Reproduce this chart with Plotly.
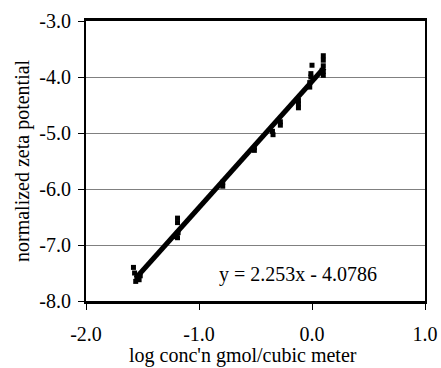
import plotly.graph_objects as go
import numpy as np

# Measured points (log concentration, normalized zeta potential)
x_data = [-1.58, -1.57, -1.56, -1.55, -1.53, -1.52,
          -1.19, -1.19, -1.185, -1.19, -1.20,
          -0.79, -0.79,
          -0.51, -0.51,
          -0.35, -0.345, -0.28, -0.28,
          -0.12, -0.12, -0.12,
          0.00, -0.01, -0.01, -0.02, -0.02,
          0.10, 0.10, 0.10, 0.10, 0.10, 0.09]
y_data = [-7.40, -7.50, -7.65, -7.58, -7.62, -7.55,
          -6.52, -6.60, -6.78, -6.87, -6.85,
          -5.88, -5.95,
          -5.26, -5.31,
          -4.97, -5.03, -4.80, -4.86,
          -4.42, -4.48, -4.55,
          -3.79, -3.94, -4.00, -4.10, -4.18,
          -3.62, -3.70, -3.80, -3.90, -3.97, -3.88]

# Trend line parameters
slope = 2.253
intercept = -4.0786
fit_range = [-1.56, 0.11]

x_ticks = [-2.0, -1.0, 0.0, 1.0]
y_ticks = [-3.0, -4.0, -5.0, -6.0, -7.0, -8.0]

x_title = "log conc'n gmol/cubic meter"
y_title = "normalized zeta potential"

fit_x = np.array(fit_range)
fit_y = slope * fit_x + intercept

fig = go.Figure()
fig.add_trace(go.Scatter(x=x_data, y=y_data, mode="markers",
                         marker=dict(symbol="square", size=5, color="black"),
                         showlegend=False))
fig.add_trace(go.Scatter(x=fit_x, y=fit_y, mode="lines",
                         line=dict(color="black", width=5),
                         showlegend=False))

font = "Liberation Serif"
tfont = dict(family=font, size=20, color="black")
fig.add_annotation(x=-0.12, y=-7.53, xref="x", yref="y",
                   text="y = 2.253x - 4.0786", showarrow=False,
                   font=tfont, xanchor="center", yanchor="middle")
fig.add_annotation(x=-0.61, y=0, xref="x", yref="paper", yshift=-54,
                   text=x_title, showarrow=False, font=tfont,
                   xanchor="center", yanchor="middle")
fig.add_annotation(x=0, y=0.5, xref="paper", yref="paper", xshift=-64,
                   text=y_title, showarrow=False, font=tfont, textangle=-90,
                   xanchor="center", yanchor="middle")

fig.update_layout(
    width=441, height=368,
    margin=dict(l=86, r=16, t=21, b=67),
    paper_bgcolor="white", plot_bgcolor="white",
    font=tfont,
    xaxis=dict(range=[-2.0, 1.0], tickvals=x_ticks,
               ticktext=[f"{v:.1f}" for v in x_ticks], tickfont=tfont,
               showgrid=False, zeroline=False, automargin=False,
               showline=True, linecolor="black", linewidth=2.5, mirror=True,
               ticks="outside", ticklen=6, tickcolor="black",
               ticklabelstandoff=7),
    yaxis=dict(range=[-8.0, -3.0], tickvals=y_ticks,
               ticktext=[f"{v:.1f}" for v in y_ticks], tickfont=tfont,
               showgrid=True, gridcolor="#808080", gridwidth=1, zeroline=False,
               automargin=False,
               showline=True, linecolor="black", linewidth=2, mirror=True,
               ticks="outside", ticklen=6, tickcolor="black",
               ticklabelstandoff=3),
)

fig.write_html("out.html")
